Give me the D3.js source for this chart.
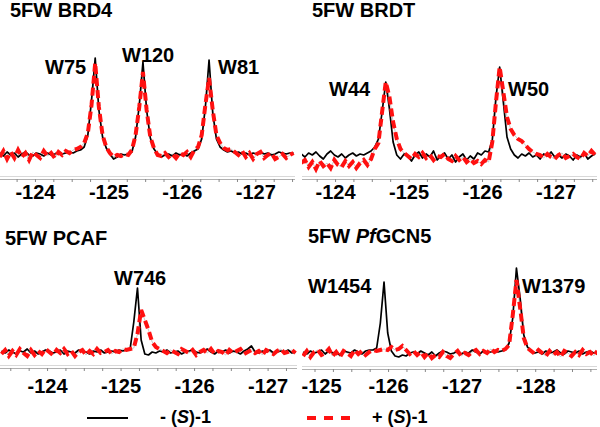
<!DOCTYPE html>
<html><head><meta charset="utf-8">
<script src="https://cdn.jsdelivr.net/npm/d3@7"></script>
<style>
body{margin:0;background:#fff}
svg{display:block}
text{font-family:"Liberation Sans",Arial,Helvetica,sans-serif;fill:#000}
</style>
</head><body>
<svg id="chart" width="600" height="427"></svg>
<script>
// ---------------- data ----------------
const titles = ["5FW BRD4", "5FW BRDT", "5FW PCAF", "5FW _Pf_GCN5"];
const tickLabels = [
  [-124, -125, -126, -127],
  [-124, -125, -126, -127],
  [-124, -125, -126, -127],
  [-125, -126, -127, -128]
];
const peakNames = [["W75", "W120", "W81"], ["W44", "W50"], ["W746"], ["W1454", "W1379"]];
const legendLabels = ["- (_S_)-1", "+ (_S_)-1"];
// chemical shift of first sample (ppm), samples every 0.05 ppm
const gridStart = [-123.52, -123.54, -123.38, -124.845];
const gridStep = 0.05;

const brd4Minus = [2,-1,3,0,2,-2,1,3,0,-1,2,1,-1,2,0,1,3,1,2,3,2,
  4,5,8,20,55,97,45,18,7,1,-4,-2,1,0,
  1,3,18,50,93,45,17,6,1,-2,0,
  1,-1,2,0,1,-1,2,4,
  6,16,48,95,42,16,8,5,3,4,
  2,3,1,2,0,2,1,3,1,2,0,1,3,2,1,2,2];
const brd4Plus = [-2,4,-4,3,-3,5,-2,2,-5,3,0,-3,4,-1,2,-3,3,0,4,2,5,
  6,8,12,22,50,92,48,20,8,2,-2,0,-1,1,
  0,5,20,48,83,45,18,7,0,-1,2,
  -2,1,-3,2,0,3,-2,5,
  8,20,50,77,45,20,12,7,5,6,
  3,0,4,-2,2,-4,1,3,-3,0,2,-4,-2,1,-3,0,2];
const brdtMinus = [3,0,4,2,5,1,-2,3,6,2,0,3,-1,2,4,1,3,2,4,
  6,10,18,45,75,48,15,2,-2,3,
  1,-4,2,5,-1,3,0,6,-3,1,4,-2,2,-5,0,3,-3,1,-2,4,2,6,
  5,17,60,90,55,20,8,2,-1,3,
  1,4,0,2,-2,3,1,5,0,2,-1,3,1,-3,2,0,4,-2,1,3];
const brdtPlus = [-6,-3,-10,-5,-12,-4,-9,-6,-11,-3,-8,-10,-4,-9,-5,-11,-6,-3,-8,
  -2,8,14,45,75,60,35,18,8,4,
  1,-2,3,0,4,-1,2,-3,1,0,3,-2,-4,1,-3,0,-5,-2,-6,-4,-7,-3,-5,
  15,55,90,65,40,28,22,18,16,12,8,5,3,
  2,-1,3,0,-2,2,4,-1,1,3,0,-2,4,1,6,2];
const pcafMinus = [1,-1,2,0,-2,1,0,3,-1,1,-2,0,2,1,-1,0,2,-2,1,0,-1,2,1,0,-2,1,0,2,-1,0,1,0,2,1,2,
  3,30,64,12,-2,-3,0,-1,
  1,0,2,-1,0,1,-2,0,1,2,0,-1,1,3,0,-2,1,0,2,-1,1,0,-2,1,3,6,0,-1,1,0,2,-1,0,1,0,2,-1,0];
const pcafPlus = [-2,2,-4,1,-3,3,-1,-4,2,-3,1,-2,3,0,-3,2,-1,3,-2,1,-4,0,2,-3,1,-2,3,-1,0,2,-2,1,0,3,2,
  3,4,18,42,32,22,10,5,3,1,
  -1,2,0,-2,3,1,-1,2,-3,0,2,-1,3,-2,1,0,-3,2,-1,1,3,-2,0,2,-1,1,-3,2,0,-2,1,3,-1,0,2,-1];
const gcnMinus = [1,-1,2,0,1,3,-1,2,0,1,-2,2,1,0,3,1,-1,2,3,3,
  5,30,71,20,2,-3,-4,-2,-3,0,
  1,-1,2,0,-2,1,-3,0,2,1,-1,0,2,-1,1,0,3,1,-1,2,0,1,2,1,2,
  3,10,35,85,55,18,6,2,
  0,1,-1,2,0,1,3,0,-1,2,1,0,2,-1,1,2,0,1];
const gcnPlus = [-3,2,-4,1,3,-2,0,4,-3,1,-4,2,0,-3,3,-1,2,-2,1,3,
  2,3,4,3,6,3,4,7,3,-1,
  2,-2,1,-4,0,-5,-2,-4,1,-3,-5,-1,2,-3,0,-2,1,3,-1,2,0,4,1,3,2,
  4,8,38,73,45,15,5,2,
  -1,3,0,-3,2,-2,1,-4,2,0,-3,1,-2,3,-1,1,-3,2];

const seriesMinus = [brd4Minus, brdtMinus, pcafMinus, gcnMinus];
const seriesPlus = [brd4Plus, brdtPlus, pcafPlus, gcnPlus];

// ---------------- layout ----------------
const layout = [
  {x0:0,   x1:295, dom:[-123.524,-127.54], base:155, axisY:179, labelY:199, title:[10,17],  peaks:[[45,74],[122,62],[218,74]]},
  {x0:302, x1:597, dom:[-123.55,-127.565], base:157, axisY:179, labelY:199, title:[312,17], peaks:[[329,96],[508,96]]},
  {x0:0,   x1:297, dom:[-123.36,-127.4],   base:352, axisY:368, labelY:393, title:[5,245],  peaks:[[114,285]]},
  {x0:302, x1:597, dom:[-124.83,-128.84],  base:353, axisY:369, labelY:393, title:[308,243],peaks:[[308,293],[522,293]]}
];

const svg = d3.select("#chart");

function rich(sel, str) {
  const parts = str.split("_");
  parts.forEach((p, i) => {
    if (!p) return;
    sel.append("tspan").text(p).attr("font-style", i % 2 ? "italic" : null);
  });
}

layout.forEach((L, i) => {
  const x = d3.scaleLinear().domain(L.dom).range([L.x0, L.x1]);
  const y = d3.scaleLinear().domain([0, 100]).range([L.base, L.base - 100]);
  const g = svg.append("g");

  const clipId = "clip" + i;
  svg.append("clipPath").attr("id", clipId).append("rect")
    .attr("x", L.x0).attr("y", L.axisY - 180).attr("width", L.x1 - L.x0).attr("height", 178);

  // axis
  const lo = Math.ceil(Math.min(...L.dom) * 4), hi = Math.floor(Math.max(...L.dom) * 4);
  const ticks = d3.range(lo, hi + 1).map(v => v / 4);
  g.append("line").attr("x1", L.x0).attr("x2", L.x1).attr("y1", L.axisY - 2.5).attr("y2", L.axisY - 2.5)
    .attr("stroke", "#d8d8d8").attr("stroke-width", 1);
  const ax = g.append("g").attr("transform", `translate(0,${L.axisY})`)
    .call(d3.axisBottom(x).tickValues(ticks).tickSize(3).tickSizeOuter(0)
      .tickFormat(d => tickLabels[i].includes(d) ? String(d) : ""));
  ax.select(".domain").attr("stroke", "#b0b0b0").attr("d", `M${L.x0},0.5H${L.x1}`);
  ax.selectAll(".tick line").attr("stroke", "#888");
  ax.selectAll(".tick text")
    .attr("y", L.labelY - L.axisY).attr("dy", 0)
    .attr("font-size", 20).attr("font-weight", "bold")
    .attr("font-family", '"Liberation Sans",Arial,sans-serif').attr("fill", "#000")
    .each(function(d) {
      const px = x(d);
      if (tickLabels[i].includes(d) && px - 20 < L.x0) d3.select(this).attr("dx", L.x0 - (px - 20) - 1);
    });

  const pts = s => s.map((v, k) => [gridStart[i] - k * gridStep, v]);
  const line = d3.line().x(d => x(d[0])).y(d => y(d[1]));
  const plot = g.append("g").attr("clip-path", `url(#${clipId})`);
  plot.append("path").attr("d", line(pts(seriesPlus[i]))).attr("fill", "none")
    .attr("stroke", "#c8c8c8").attr("stroke-width", 1);
  plot.append("path").attr("d", line(pts(seriesMinus[i]))).attr("fill", "none")
    .attr("stroke", "#000").attr("stroke-width", 1.7).attr("stroke-linejoin", "round");
  plot.append("path").attr("d", line(pts(seriesPlus[i]))).attr("fill", "none")
    .attr("stroke", "#ff1010").attr("stroke-width", 4).attr("stroke-dasharray", "8,4");

  // title
  const t = g.append("text").attr("x", L.title[0]).attr("y", L.title[1])
    .attr("font-size", 20).attr("font-weight", "bold");
  rich(t, titles[i]);

  // peak labels
  peakNames[i].forEach((n, j) => {
    g.append("text").attr("x", L.peaks[j][0]).attr("y", L.peaks[j][1])
      .attr("font-size", 20).attr("font-weight", "bold").text(n);
  });
});

// legend
const leg = svg.append("g");
leg.append("line").attr("x1", 87).attr("x2", 128).attr("y1", 418).attr("y2", 418)
  .attr("stroke", "#000").attr("stroke-width", 2);
rich(leg.append("text").attr("x", 160).attr("y", 423).attr("font-size", 18).attr("font-weight", "bold"), legendLabels[0]);
leg.append("line").attr("x1", 307).attr("x2", 350).attr("y1", 418).attr("y2", 418)
  .attr("stroke", "#ff1010").attr("stroke-width", 4).attr("stroke-dasharray", "9,8");
rich(leg.append("text").attr("x", 372).attr("y", 423).attr("font-size", 18).attr("font-weight", "bold"), legendLabels[1]);
</script>
</body></html>
